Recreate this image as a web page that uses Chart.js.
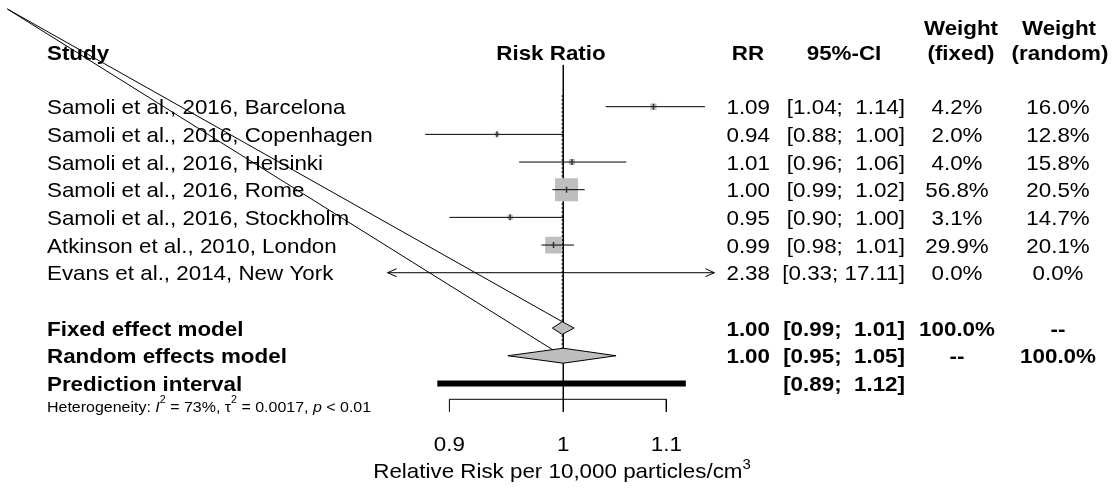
<!DOCTYPE html>
<html>
<head>
<meta charset="utf-8">
<script src="https://cdn.jsdelivr.net/npm/chart.js@4.4.0/dist/chart.umd.min.js"></script>
<style>
  html, body { margin: 0; padding: 0; background: #fff; }
</style>
</head>
<body>
<canvas id="forest" width="1114" height="490"></canvas>
<script>
// study rows
const studies = [
  "Samoli et al., 2016, Barcelona",
  "Samoli et al., 2016, Copenhagen",
  "Samoli et al., 2016, Helsinki",
  "Samoli et al., 2016, Rome",
  "Samoli et al., 2016, Stockholm",
  "Atkinson et al., 2010, London",
  "Evans et al., 2014, New York"
];
const rr = [1.087, 0.9405, 1.008, 1.003, 0.952, 0.991, 2.38];
const ciLow = [1.04, 0.88, 0.96, 0.99, 0.90, 0.98, 0.33];
const ciHigh = [1.14, 1.00, 1.06, 1.02, 1.00, 1.01, 17.11];
const wFixed = [4.2, 2.0, 4.0, 56.8, 3.1, 29.9, 0.0];
const wRandom = [16.0, 12.8, 15.8, 20.5, 14.7, 20.1, 0.0];

// pooled results
const fixedModel = [0.999, 0.99, 1.01];   // estimate, lower, upper
const randomModel = [1.00, 0.95, 1.05];
const predInterval = [0.89, 1.12];
const hetI2 = "73%";
const hetTau2 = "0.0017";
const hetP = "0.01";

const xTicks = [0.9, 1, 1.1];

// layout
const FONT = '"Liberation Sans", Arial, sans-serif';
const SX = 1.065; // the picture is a bit wider than tall
const BOX_K = 2.16;
const rowStudy = i => i + 1;
const ROW_FIXED = 9, ROW_RANDOM = 10, ROW_PRED = 11;

function fmtCI(lo, hi) {
  const h = hi.toFixed(2);
  return "[" + lo.toFixed(2) + "; " + (h.length < 5 ? " " : "") + h + "]";
}

function diamond(m, row, h) {
  return [
    { x: m[1], y: row },
    { x: m[0], y: row - h },
    { x: m[2], y: row },
    { x: m[0], y: row + h },
    { x: m[1], y: row }
  ];
}

function seg(data, extra) {
  return Object.assign({
    data: data,
    showLine: true,
    pointRadius: 0,
    borderColor: "#000",
    borderWidth: 1,
    fill: false
  }, extra);
}

const datasets = [];

// odd stray lines from the top-left corner
datasets.push(seg([{ x: 0.598, y: -2.53 }, { x: fixedModel[0], y: ROW_FIXED - 0.23 }], { order: 0, clip: false }));
datasets.push(seg([{ x: 0.598, y: -2.53 }, { x: 0.9905, y: 9.79 }], { order: 0, clip: false }));

// pooled diamonds
datasets.push(seg(diamond(fixedModel, ROW_FIXED, 0.23), { order: 1, fill: "shape", backgroundColor: "#bebebe" }));
datasets.push(seg(diamond(randomModel, ROW_RANDOM, 0.27), { order: 1, fill: "shape", backgroundColor: "#bebebe" }));

// estimate ticks
datasets.push({
  data: rr.map((v, i) => ({ x: v, y: rowStudy(i) })),
  pointStyle: "line",
  rotation: 90,
  pointRadius: 3,
  borderColor: "#333",
  borderWidth: 1.5,
  showLine: false,
  order: 2
});

// confidence intervals
studies.forEach((s, i) => {
  datasets.push(seg([{ x: ciLow[i], y: rowStudy(i) }, { x: ciHigh[i], y: rowStudy(i) }], { order: 3 }));
});

// weight boxes
datasets.push({
  data: rr.map((v, i) => ({ x: v, y: rowStudy(i) })),
  pointStyle: "rect",
  pointRadius: ctx => BOX_K * Math.sqrt(wFixed[ctx.dataIndex] || 0),
  backgroundColor: "#bebebe",
  borderWidth: 0,
  showLine: false,
  order: 4
});

// prediction interval bar
datasets.push(seg([{ x: predInterval[0], y: ROW_PRED }, { x: predInterval[1], y: ROW_PRED }], { order: 5, borderWidth: 6, borderCapStyle: "butt" }));

// fixed effect dashed line
datasets.push(seg([{ x: fixedModel[0], y: 0.58 }, { x: fixedModel[0], y: ROW_RANDOM - 0.27 }], { order: 6, borderDash: [2, 2] }));

// line of no effect
datasets.push(seg([{ x: 1, y: -0.51 }, { x: 1, y: 12.03 }], { order: 7 }));

// bottom axis bracket
const tLo = xTicks[0], tHi = xTicks[xTicks.length - 1];
datasets.push(seg([{ x: tLo, y: 12.03 }, { x: tLo, y: 11.575 }, { x: tHi, y: 11.575 }, { x: tHi, y: 12.03 }], { order: 8 }));

function drawRuns(ctx, runs, x, y, align) {
  let total = 0;
  runs.forEach(r => {
    ctx.font = (r.italic ? "italic " : "") + (r.bold ? "bold " : "") + r.size + "px " + FONT;
    r.w = ctx.measureText(r.t).width * SX;
    total += r.w;
  });
  let cx = x;
  if (align === "center") cx = x - total / 2;
  if (align === "right") cx = x - total;
  runs.forEach(r => {
    ctx.save();
    ctx.font = (r.italic ? "italic " : "") + (r.bold ? "bold " : "") + r.size + "px " + FONT;
    ctx.translate(cx, y - (r.dy || 0));
    ctx.scale(SX, 1);
    ctx.textAlign = "left";
    ctx.textBaseline = "alphabetic";
    ctx.fillStyle = "#000";
    ctx.fillText(r.t, 0, 0);
    ctx.restore();
    cx += r.w;
  });
}

function txt(ctx, s, x, y, align, bold, size) {
  drawRuns(ctx, [{ t: s, bold: bold, size: size || 21 }], x, y, align);
}

const textPlugin = {
  id: "forestText",
  afterDraw(chart) {
    const ctx = chart.ctx;
    const ys = chart.scales.y, xs = chart.scales.x;
    const base = r => ys.getPixelForValue(r) + 7.5;
    const area = chart.chartArea;
    const col = { study: 47, rr: 770, ci: 905, wf: 957, wr: 1058 };

    // headers
    txt(ctx, "Study", col.study, 60, "left", true);
    txt(ctx, "Risk Ratio", (area.left + area.right) / 2, 60, "center", true);
    txt(ctx, "RR", 748, 60, "center", true);
    txt(ctx, "95%-CI", 844, 60, "center", true);
    txt(ctx, "Weight", 961, 35, "center", true);
    txt(ctx, "(fixed)", 961, 60, "center", true);
    txt(ctx, "Weight", 1059, 35, "center", true);
    txt(ctx, "(random)", 1060, 60, "center", true);

    // study rows
    studies.forEach((s, i) => {
      const y = base(rowStudy(i));
      txt(ctx, s, col.study, y, "left", false);
      txt(ctx, rr[i].toFixed(2), col.rr, y, "right", false);
      txt(ctx, fmtCI(ciLow[i], ciHigh[i]), col.ci, y, "right", false);
      txt(ctx, wFixed[i].toFixed(1) + "%", col.wf, y, "center", false);
      txt(ctx, wRandom[i].toFixed(1) + "%", col.wr, y, "center", false);
    });

    // pooled rows
    let y = base(ROW_FIXED);
    txt(ctx, "Fixed effect model", col.study, y, "left", true);
    txt(ctx, fixedModel[0].toFixed(2), col.rr, y, "right", true);
    txt(ctx, fmtCI(fixedModel[1], fixedModel[2]), col.ci, y, "right", true);
    txt(ctx, "100.0%", col.wf, y, "center", true);
    txt(ctx, "--", col.wr, y, "center", true);

    y = base(ROW_RANDOM);
    txt(ctx, "Random effects model", col.study, y, "left", true);
    txt(ctx, randomModel[0].toFixed(2), col.rr, y, "right", true);
    txt(ctx, fmtCI(randomModel[1], randomModel[2]), col.ci, y, "right", true);
    txt(ctx, "--", col.wf, y, "center", true);
    txt(ctx, "100.0%", col.wr, y, "center", true);

    y = base(ROW_PRED);
    txt(ctx, "Prediction interval", col.study, y, "left", true);
    txt(ctx, fmtCI(predInterval[0], predInterval[1]), col.ci, y, "right", true);

    // heterogeneity
    drawRuns(ctx, [
      { t: "Heterogeneity: ", size: 15 },
      { t: "I", size: 15, italic: true },
      { t: "2", size: 10, dy: 9 },
      { t: " = " + hetI2 + ", ", size: 15 },
      { t: "\u03c4", size: 15 },
      { t: "2", size: 10, dy: 9 },
      { t: " = " + hetTau2 + ", ", size: 15 },
      { t: "p", size: 15, italic: true },
      { t: " < " + hetP, size: 15 }
    ], col.study, 412, "left");

    // arrows for intervals running off the plot
    ctx.save();
    ctx.strokeStyle = "#000";
    ctx.lineWidth = 1;
    studies.forEach((s, i) => {
      const yy = ys.getPixelForValue(rowStudy(i));
      if (ciLow[i] < xs.min) {
        ctx.beginPath();
        ctx.moveTo(area.left + 9, yy - 4);
        ctx.lineTo(area.left, yy);
        ctx.lineTo(area.left + 9, yy + 4);
        ctx.stroke();
      }
      if (ciHigh[i] > xs.max) {
        ctx.beginPath();
        ctx.moveTo(area.right - 9, yy - 4);
        ctx.lineTo(area.right, yy);
        ctx.lineTo(area.right - 9, yy + 4);
        ctx.stroke();
      }
    });
    ctx.restore();

    // tick labels and axis title
    xTicks.forEach(t => {
      txt(ctx, String(t), xs.getPixelForValue(t), 451, "center", false);
    });
    drawRuns(ctx, [
      { t: "Relative Risk per 10,000 particles/cm", size: 21 },
      { t: "3", size: 14, dy: 9 }
    ], 562, 478, "center");
  }
};

new Chart(document.getElementById("forest"), {
  type: "scatter",
  data: { datasets: datasets },
  options: {
    responsive: false,
    animation: false,
    devicePixelRatio: 1,
    layout: { autoPadding: false, padding: { left: 387.6, right: 399.6, top: 0, bottom: 0 } },
    scales: {
      x: { type: "logarithmic", min: 0.85, max: 1.15, display: false },
      y: { type: "linear", reverse: true, min: -2.856, max: 14.853, display: false }
    },
    plugins: {
      legend: { display: false },
      tooltip: { enabled: false }
    }
  },
  plugins: [textPlugin]
});
</script>
</body>
</html>
